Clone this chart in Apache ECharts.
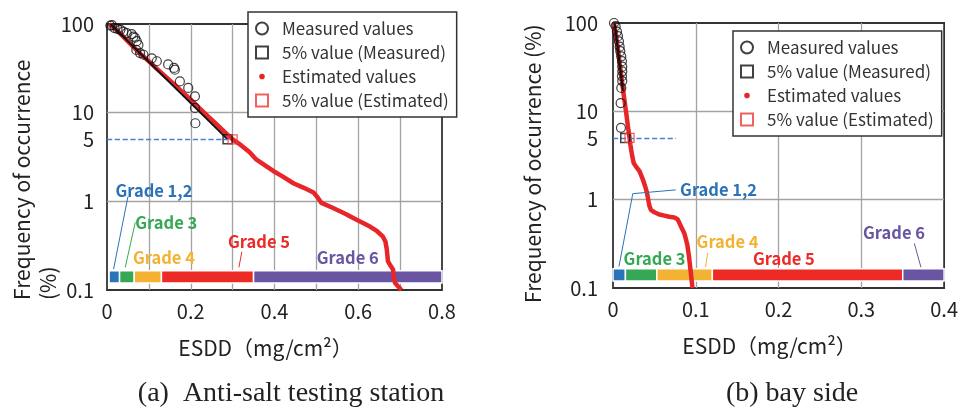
<!DOCTYPE html>
<html>
<head>
    <meta charset="UTF-8">
    <script src="https://cdn.jsdelivr.net/npm/echarts@6/dist/echarts.min.js"></script>
    <style>
        html, body { margin: 0; padding: 0; background: #fff; }
        #container { width: 961px; height: 411px; }
    </style>
</head>
<body>
<div id="container"></div>

<script type="text/javascript">
    // ---- data: [ESDD, frequency %] ----
    var estLeft = [
        [0.005, 100], [0.02, 88], [0.04, 71], [0.06, 57], [0.08, 46], [0.10, 38], [0.12, 31],
        [0.14, 25.5], [0.16, 21], [0.18, 17], [0.20, 14], [0.22, 11.3], [0.24, 9.2], [0.26, 7.5],
        [0.28, 6.1], [0.30, 5.0], [0.32, 4.3], [0.34, 3.6], [0.357, 2.95], [0.38, 2.5],
        [0.397, 2.2], [0.42, 1.9], [0.445, 1.6], [0.47, 1.42], [0.493, 1.26], [0.504, 1.09],
        [0.512, 0.96], [0.54, 0.84], [0.57, 0.72], [0.596, 0.62], [0.628, 0.52], [0.645, 0.46],
        [0.659, 0.40], [0.665, 0.35], [0.668, 0.29], [0.671, 0.21], [0.678, 0.185], [0.683, 0.17],
        [0.685, 0.14], [0.688, 0.12], [0.695, 0.11], [0.703, 0.1]
    ];
    var fitLeft = [[0.008, 100], [0.288, 5]];
    var measLeft = [
        [0.008, 96], [0.012, 97], [0.018, 90], [0.025, 88], [0.032, 86], [0.039, 82], [0.047, 79],
        [0.059, 77], [0.063, 72], [0.067, 70], [0.071, 64], [0.075, 58], [0.070, 51], [0.079, 47],
        [0.087, 45], [0.107, 41], [0.119, 38], [0.146, 35], [0.162, 30.5], [0.160, 32],
        [0.174, 22.5], [0.194, 19], [0.210, 15.3], [0.210, 11.3], [0.211, 7.6]
    ];
    var p5MeasLeft = [[0.288, 5]];
    var p5EstLeft = [[0.30, 5]];
    var dashLeft = [0, 0.29];

    var estRight = [
        [0.001, 100], [0.003, 80], [0.006, 50], [0.008, 35], [0.010, 25], [0.012, 18], [0.014, 13],
        [0.016, 9.5], [0.018, 6.8], [0.020, 5.0], [0.021, 4.2], [0.023, 3.2], [0.025, 2.6],
        [0.028, 2.35], [0.032, 2.1], [0.036, 1.7], [0.039, 1.4], [0.041, 1.2], [0.043, 0.95],
        [0.044, 0.85], [0.046, 0.76], [0.050, 0.72], [0.056, 0.68], [0.062, 0.66], [0.068, 0.64],
        [0.074, 0.63], [0.078, 0.60], [0.080, 0.55], [0.082, 0.50], [0.086, 0.42], [0.088, 0.36],
        [0.090, 0.30], [0.092, 0.22], [0.093, 0.18], [0.094, 0.15], [0.096, 0.10]
    ];
    var fitRight = [[0.002, 100], [0.012, 17]];
    var measRight = [
        [0.0012, 100], [0.0032, 92], [0.0048, 80], [0.006, 71], [0.0072, 62], [0.008, 54],
        [0.0088, 48], [0.010, 42], [0.0108, 37], [0.0112, 32], [0.0112, 28.4], [0.0108, 25],
        [0.0112, 22], [0.010, 18.4], [0.0092, 12.4], [0.0096, 6.5]
    ];
    var p5MeasRight = [[0.0148, 5]];
    var p5EstRight = [[0.020, 5]];
    var dashRight = [0, 0.076];

    // pollution grades
    var gradeNames = ['Grade 1,2', 'Grade 3', 'Grade 4', 'Grade 5', 'Grade 6'];
    var gradeEdgesLeft = [0.005, 0.03, 0.065, 0.13, 0.35, 0.8];
    var gradeEdgesRight = [0, 0.015, 0.053, 0.12, 0.35, 0.4];
    var gradeLabelLeft = [[0.02, 1.32], [0.0675, 0.57], [0.062, 0.23], [0.289, 0.35], [0.501, 0.23]];
    var gradeLabelRight = [[0.081, 1.29], [0.0128, 0.214], [0.101, 0.336], [0.169, 0.214], [0.302, 0.42]];
    var leadersLeft = [
        [0, [[0.050, 1.13], [0.0157, 0.172]]],
        [1, [[0.0675, 0.58], [0.0436, 0.18]]],
        [3, [[0.322, 0.27], [0.315, 0.18]]]
    ];
    var leadersRight = [
        [0, [[0.0758, 1.29], [0.0239, 1.17], [0.0072, 0.175]]],
        [2, [[0.1145, 0.25], [0.1117, 0.172]]],
        [4, [[0.364, 0.32], [0.372, 0.172]]]
    ];

    var yLabels = [0.1, 1, 5, 10, 100];
    var legendNames = ['Measured values', '5% value (Measured)', 'Estimated values', '5% value (Estimated)'];

    // ---- styling ----
    var FONT = '"Noto Sans CJK JP", "Noto Sans", sans-serif';
    var SERIF = '"Liberation Serif", "DejaVu Serif", serif';
    var gradeColors = ['#2a73b8', '#35a855', '#f3b232', '#ec2a26', '#6a55a2'];
    var RED = '#e8262a';
    var BAR_LOW = 0.12, BAR_HIGH = 0.165;
    var dotIcon = 'path://M0,0M12,12M6,3.2a2.8,2.8,0,1,1,0,5.6a2.8,2.8,0,1,1,0,-5.6z';

    function barItem(params, api) {
        var a = api.coord([api.value(0), BAR_HIGH]);
        var b = api.coord([api.value(1), BAR_LOW]);
        return {
            type: 'rect',
            shape: {x: a[0], y: a[1], width: b[0] - a[0], height: b[1] - a[1]},
            style: {fill: gradeColors[api.value(2)], stroke: '#fff', lineWidth: 1.5}
        };
    }

    function labelItem(params, api) {
        var p = api.coord([api.value(0), api.value(1)]);
        var i = api.value(2);
        return {
            type: 'text', x: p[0], y: p[1],
            style: {
                text: gradeNames[i], fill: gradeColors[i], fontSize: 16.5, fontWeight: 'bold',
                fontFamily: FONT, align: 'left', verticalAlign: 'middle'
            }
        };
    }

    function makeLeaderItem(leaders) {
        return function (params, api) {
            var l = leaders[params.dataIndex];
            var pts = l[1].map(function (p) { return api.coord(p); });
            return {
                type: 'polyline', shape: {points: pts},
                style: {stroke: gradeColors[l[0]], lineWidth: 1, fill: null}
            };
        };
    }

    function panelSeries(k, est, fit, meas, p5m, p5e, dash, edges, labels, leaders) {
        var bars = [];
        for (var i = 0; i < gradeNames.length; i++) bars.push([edges[i], edges[i + 1], i]);
        var labs = labels.map(function (p, i) { return [p[0], p[1], i]; });
        var leads = leaders.map(function (l) { return [l[1][0][0], l[1][0][1], l[0]]; });
        return [
            {
                type: 'custom', name: 'grades' + k, xAxisIndex: k, yAxisIndex: k,
                renderItem: barItem, data: bars, encode: {x: [0, 1]}, z: 1, silent: true
            },
            {
                type: 'line', name: 'Estimated values', xAxisIndex: k, yAxisIndex: k,
                data: est, symbol: 'none', smooth: false,
                lineStyle: {color: RED, width: 4.5}, itemStyle: {color: RED}, z: 2
            },
            {
                type: 'line', name: 'fit' + k, xAxisIndex: k, yAxisIndex: k,
                data: fit, symbol: 'none', lineStyle: {color: '#111', width: 2}, z: 3
            },
            {
                type: 'scatter', name: 'Measured values', xAxisIndex: k, yAxisIndex: k,
                data: meas, symbol: 'circle', symbolSize: 9,
                itemStyle: {color: 'rgba(255,255,255,0)', borderColor: '#111', borderWidth: 1.2}, z: 4
            },
            {
                type: 'scatter', name: '5% value (Measured)', xAxisIndex: k, yAxisIndex: k,
                data: p5m, symbol: 'rect', symbolSize: 9,
                itemStyle: {color: 'rgba(255,255,255,0)', borderColor: '#111', borderWidth: 1.5}, z: 5,
                markLine: {
                    silent: true, symbol: 'none', label: {show: false},
                    lineStyle: {type: 'dashed', color: '#4a80d4', width: 1.3},
                    data: [[{coord: [dash[0], 5]}, {coord: [dash[1], 5]}]]
                }
            },
            {
                type: 'scatter', name: '5% value (Estimated)', xAxisIndex: k, yAxisIndex: k,
                data: p5e, symbol: 'rect', symbolSize: 9,
                itemStyle: {color: 'rgba(255,255,255,0)', borderColor: '#ee3b33', borderWidth: 1.3}, z: 5
            },
            {
                type: 'custom', name: 'leaders' + k, xAxisIndex: k, yAxisIndex: k,
                renderItem: makeLeaderItem(leaders), data: leads, encode: {x: 0, y: 1}, z: 6, silent: true
            },
            {
                type: 'custom', name: 'labels' + k, xAxisIndex: k, yAxisIndex: k,
                renderItem: labelItem, data: labs, encode: {x: 0, y: 1}, z: 7, silent: true
            }
        ];
    }

    function makeLegend(left, top) {
        return {
            orient: 'vertical', left: left, top: top,
            padding: [8, 8, 8, 7], itemGap: 7, itemWidth: 12, itemHeight: 12,
            backgroundColor: '#fff', borderColor: '#333', borderWidth: 1.5,
            textStyle: {fontFamily: FONT, fontSize: 17, color: '#333', padding: [0, 0, 0, 9]},
            selectedMode: false,
            data: [
                {name: legendNames[0], icon: 'circle'},
                {name: legendNames[1], icon: 'rect'},
                {name: legendNames[2], icon: dotIcon},
                {name: legendNames[3], icon: 'rect'}
            ]
        };
    }

    function makeX(k, max, everyOther) {
        return {
            type: 'value', gridIndex: k, min: 0, max: max, interval: 0.1,
            name: 'ESDD（mg/cm²）', nameLocation: 'middle', nameGap: 48,
            nameTextStyle: {fontFamily: FONT, fontSize: 21, color: '#222', padding: [0, 18, 0, 0]},
            axisLine: {show: false}, axisTick: {show: false},
            axisLabel: {
                fontFamily: FONT, fontSize: 20, color: '#222', margin: 11,
                formatter: function (v) {
                    var t = Math.round(v * 10);
                    if (everyOther && t % 2 !== 0) return '';
                    return t === 0 ? '0' : (t / 10).toString();
                }
            },
            splitLine: {show: true, showMinLine: false, showMaxLine: false, lineStyle: {color: '#a3a3a3', width: 1.3}}
        };
    }

    function makeY(k, margin) {
        return {
            type: 'log', gridIndex: k, min: 0.1, max: 100, logBase: 10,
            axisLine: {show: false}, axisTick: {show: false},
            axisLabel: {
                fontFamily: FONT, fontSize: 20, color: '#222', margin: margin,
                customValues: yLabels,
                formatter: function (v) { return String(+v.toPrecision(3)); }
            },
            splitLine: {show: true, showMinLine: false, showMaxLine: false, lineStyle: {color: '#a3a3a3', width: 1.3}}
        };
    }

    var dom = document.getElementById('container');
    var myChart = echarts.init(dom, null, {renderer: 'canvas'});

    var option = {
        animation: false,
        backgroundColor: '#fff',
        textStyle: {fontFamily: FONT},
        grid: [
            {left: 107, top: 24, width: 335, height: 266, show: true, borderColor: '#333', borderWidth: 1.8, backgroundColor: 'transparent'},
            {left: 613, top: 23, width: 335, height: 265, show: true, borderColor: '#333', borderWidth: 1.8, backgroundColor: 'transparent'}
        ],
        xAxis: [makeX(0, 0.8, true), makeX(1, 0.4, false)],
        yAxis: [makeY(0, 13), makeY(1, 15)],
        legend: [makeLegend(248, 12), makeLegend(733, 31)],
        graphic: [
            {type: 'text', x: 22, y: 300, rotation: Math.PI / 2,
                style: {text: 'Frequency of occurrence', fontFamily: FONT, fontSize: 21, fill: '#222', align: 'left', verticalAlign: 'middle'}},
            {type: 'text', x: 48, y: 300, rotation: Math.PI / 2,
                style: {text: '(%)', fontFamily: FONT, fontSize: 21, fill: '#222', align: 'left', verticalAlign: 'middle'}},
            {type: 'text', x: 533, y: 303, rotation: Math.PI / 2,
                style: {text: 'Frequency of occurrence (%)', fontFamily: FONT, fontSize: 21, fill: '#222', align: 'left', verticalAlign: 'middle'}},
            {type: 'text', x: 291, y: 394,
                style: {text: '(a)  Anti-salt testing station', fontFamily: SERIF, fontSize: 28, fill: '#222', align: 'center', verticalAlign: 'middle'}},
            {type: 'text', x: 792, y: 394,
                style: {text: '(b) bay side', fontFamily: SERIF, fontSize: 28, fill: '#222', align: 'center', verticalAlign: 'middle'}}
        ],
        series: panelSeries(0, estLeft, fitLeft, measLeft, p5MeasLeft, p5EstLeft, dashLeft,
                gradeEdgesLeft, gradeLabelLeft, leadersLeft)
            .concat(panelSeries(1, estRight, fitRight, measRight, p5MeasRight, p5EstRight, dashRight,
                gradeEdgesRight, gradeLabelRight, leadersRight))
    };

    if (option && typeof option === 'object') {
        myChart.setOption(option);
    }

    window.addEventListener('resize', myChart.resize);
</script>
</body>
</html>
